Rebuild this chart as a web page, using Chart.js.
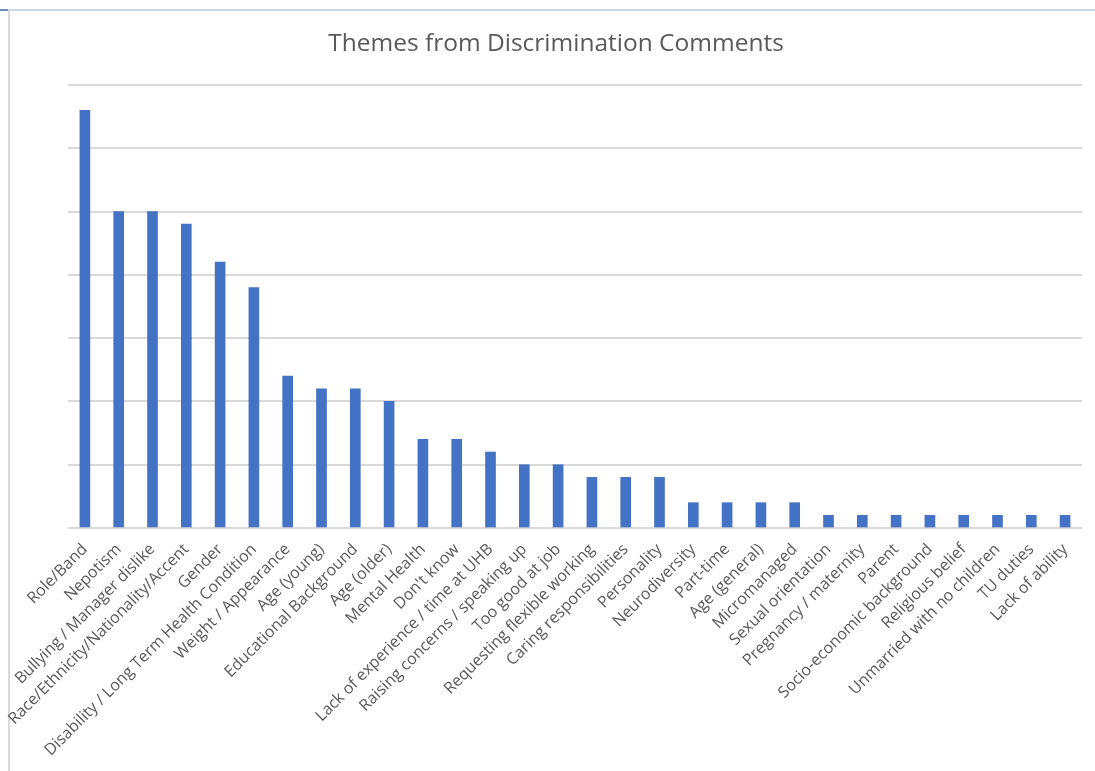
<!DOCTYPE html>
<html>
<head>
<meta charset="utf-8">
<script src="https://cdn.jsdelivr.net/npm/chart.js@4"></script>
<style>
  body { margin: 0; background: #fff; }
  #frame { position: absolute; left: 8px; top: 9px; right: 0; bottom: 0;
           border-top: 2px solid #cdd8e6; border-left: 2px solid #d9d9d9; }
  #edge { position: absolute; left: 0; top: 9px; width: 8px; height: 2px; background: #6d8fbf; }
  #wrap { position: absolute; left: 0; top: 0; width: 1095px; height: 771px; }
</style>
</head>
<body>
<div id="frame"></div>
<div id="edge"></div>
<div id="wrap"><canvas id="myChart"></canvas></div>
<script>
// themes and how many comments mentioned each one
const themes = ['Role/Band', 'Nepotism', 'Bullying / Manager dislike', 'Race/Ethnicity/Nationality/Accent',
  'Gender', 'Disability / Long Term Health Condition', 'Weight / Appearance', 'Age (young)',
  'Educational Background', 'Age (older)', 'Mental Health', "Don't know",
  'Lack of experience / time at UHB', 'Raising concerns / speaking up', 'Too good at job',
  'Requesting flexible working', 'Caring responsibilities', 'Personality', 'Neurodiversity',
  'Part-time', 'Age (general)', 'Micromanaged', 'Sexual orientation', 'Pregnancy / maternity',
  'Parent', 'Socio-economic background', 'Religious belief', 'Unmarried with no children',
  'TU duties', 'Lack of ability'];
const counts = [33, 25, 25, 24, 21, 19, 12, 11, 11, 10, 7, 7, 6, 5, 5, 4, 4, 4, 2, 2, 2, 2, 1, 1, 1, 1, 1, 1, 1, 1];
const yMax = 35;
const yStep = 5;

const ctx = document.getElementById('myChart');
Chart.defaults.font.family = "'Open Sans', 'Noto Sans', sans-serif";
Chart.defaults.color = '#595959';

new Chart(ctx, {
  type: 'bar',
  data: {
    labels: themes,
    datasets: [{
      label: 'Comments',
      data: counts,
      backgroundColor: '#4472C4',
      barThickness: 10,
      categoryPercentage: 1
    }]
  },
  options: {
    responsive: true,
    maintainAspectRatio: false,
    animation: false,
    layout: { padding: { left: 30, right: 13, top: 0, bottom: 0 } },
    plugins: {
      legend: { display: false },
      tooltip: { enabled: false },
      title: {
        display: true,
        text: 'Themes from Discrimination Comments',
        color: '#595959',
        font: { size: 24.5, weight: 'normal' },
        padding: { top: 29, bottom: 26.5 }
      }
    },
    scales: {
      x: {
        grid: { display: false, drawTicks: false },
        border: { display: false },
        ticks: {
          autoSkip: false,
          maxRotation: 45,
          minRotation: 45,
          padding: 12,
          font: { size: 16 }
        },
        afterFit: s => { s.height = 243; s.paddingLeft = 0; s.paddingRight = 0; }
      },
      y: {
        min: 0,
        max: yMax,
        ticks: { display: false, stepSize: yStep },
        grid: { color: '#d9d9d9', lineWidth: 2, drawTicks: false },
        border: { display: false },
        afterFit: s => { s.width = 38; }
      }
    }
  }
});
</script>
</body>
</html>
